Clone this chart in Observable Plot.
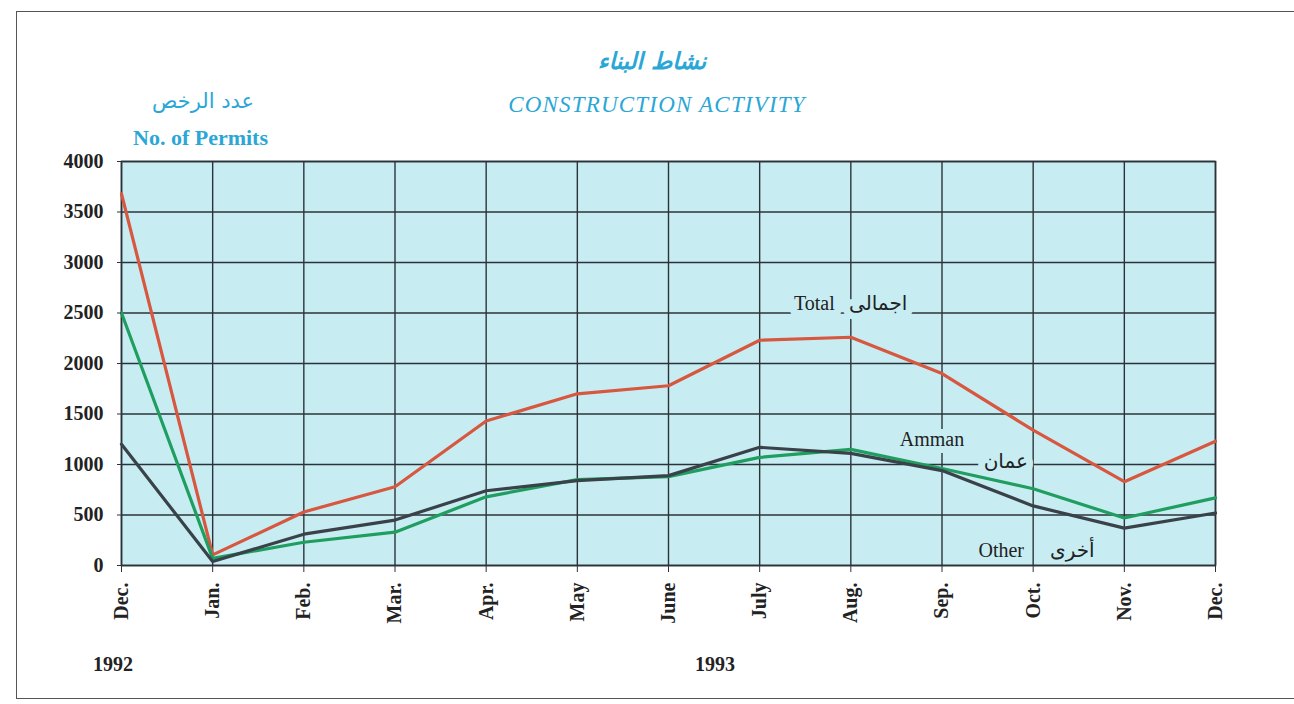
<!DOCTYPE html>
<html>
<head>
<meta charset="utf-8">
<script src="https://cdn.jsdelivr.net/npm/d3@7"></script>
<script src="https://cdn.jsdelivr.net/npm/@observablehq/plot@0.6"></script>
<style>
  html, body { margin: 0; padding: 0; background: #fff; }
  #wrap { position: relative; width: 1294px; height: 704px; overflow: hidden; font-family: "Liberation Serif", "DejaVu Sans", serif; }
  #border { position: absolute; left: 16px; top: 11px; width: 1300px; height: 688px; border: 1.5px solid #555; box-sizing: border-box; }
  .t { position: absolute; white-space: nowrap; color: #2aa7d6; }
  #chart { position: absolute; left: 0; top: 140px; }
  .yr { position: absolute; font-weight: bold; font-size: 20px; color: #222; }
</style>
</head>
<body>
<div id="wrap">
  <div id="border"></div>
  <div class="t" style="left:0;width:1304px;text-align:center;top:48px;font-size:23px;font-weight:bold;font-style:italic;font-family:'DejaVu Sans',sans-serif;">نشاط البناء</div>
  <div class="t" style="left:0;width:1314px;text-align:center;top:92px;font-size:23px;font-style:italic;letter-spacing:1.2px;font-family:'Liberation Serif','Times New Roman',serif;">CONSTRUCTION ACTIVITY</div>
  <div class="t" style="left:152px;top:89px;font-size:21px;font-family:'DejaVu Sans',sans-serif;">عدد الرخص</div>
  <div class="t" style="left:133px;top:125px;font-size:22px;font-weight:bold;">No. of Permits</div>
  <div id="chart"></div>
  <div class="yr" style="left:93px;top:653px;">1992</div>
  <div class="yr" style="left:695px;top:653px;">1993</div>
</div>
<script>
const months = ["Dec.","Jan.","Feb.","Mar.","Apr.","May","June","July","Aug.","Sep.","Oct.","Nov.","Dec."];
const total  = [3680, 105, 530, 780, 1430, 1700, 1780, 2230, 2260, 1900, 1340, 830, 1230];
const amman  = [2500,  70, 230, 330,  680,  850,  880, 1070, 1150,  960,  760, 470,  670];
const other  = [1200,  40, 310, 450,  740,  840,  890, 1170, 1110,  940,  590, 370,  520];
const yTicks = [0, 500, 1000, 1500, 2000, 2500, 3000, 3500, 4000];
const seriesLabels = [
  {x: 7.6,  y: 2590, text: "Total"},
  {x: 8.3,  y: 2590, text: "اجمالى"},
  {x: 8.89, y: 1250, text: "Amman"},
  {x: 9.70, y: 1030, text: "عمان"},
  {x: 9.65, y: 150,  text: "Other"},
  {x: 10.43, y: 150, text: "أخرى"}
];

const idx = d3.range(months.length);
const rows = [];
idx.forEach(i => {
  rows.push({i, v: total[i], s: "Total"});
  rows.push({i, v: amman[i], s: "Amman"});
  rows.push({i, v: other[i], s: "Other"});
});

const bg = "#c7edf3";
const gridColor = "#2b3339";
const colors = {Total: "#d7573f", Amman: "#1f9e5f", Other: "#3a4249"};

const plot = Plot.plot({
  width: 1294,
  height: 540,
  marginLeft: 121,
  marginRight: 79,
  marginTop: 21,
  marginBottom: 115,
  style: {fontFamily: "'Liberation Serif', 'DejaVu Sans', serif", background: "transparent", overflow: "visible"},
  x: {type: "linear", domain: [0, 12]},
  y: {domain: [0, 4000]},
  marks: [
    Plot.frame({fill: bg, stroke: "none"}),
    Plot.gridX(idx, {stroke: gridColor, strokeOpacity: 1, strokeWidth: 1.4}),
    Plot.gridY(yTicks, {stroke: gridColor, strokeOpacity: 1, strokeWidth: 1.4}),
    Plot.frame({stroke: gridColor, strokeWidth: 1.6}),
    Plot.text(seriesLabels.slice(0, 4), {x: "x", y: "y", text: "text", fontSize: 20, fill: "#222", stroke: bg, strokeWidth: 14, fontFamily: "'Liberation Serif', 'DejaVu Sans', serif"}),
    Plot.text(seriesLabels.slice(4), {x: "x", y: "y", text: "text", fontSize: 20, fill: "#222", stroke: bg, strokeWidth: 5, fontFamily: "'Liberation Serif', 'DejaVu Sans', serif"}),
    Plot.line(rows, {x: "i", y: "v", z: "s", stroke: d => colors[d.s], strokeWidth: 3.2, strokeLinejoin: "miter"}),
    Plot.axisY(yTicks, {tickSize: 4, tickPadding: 14, fontSize: 20, fontWeight: "bold", tickFormat: d3.format("d"), label: null, stroke: gridColor, fill: "#222"}),
    Plot.axisX(idx, {tickSize: 7, tickPadding: 10, tickRotate: -90, fontSize: 20, fontWeight: "bold", tickFormat: i => months[i], label: null, stroke: gridColor, fill: "#222"})
  ]
});
document.getElementById("chart").appendChild(plot);
</script>
</body>
</html>
